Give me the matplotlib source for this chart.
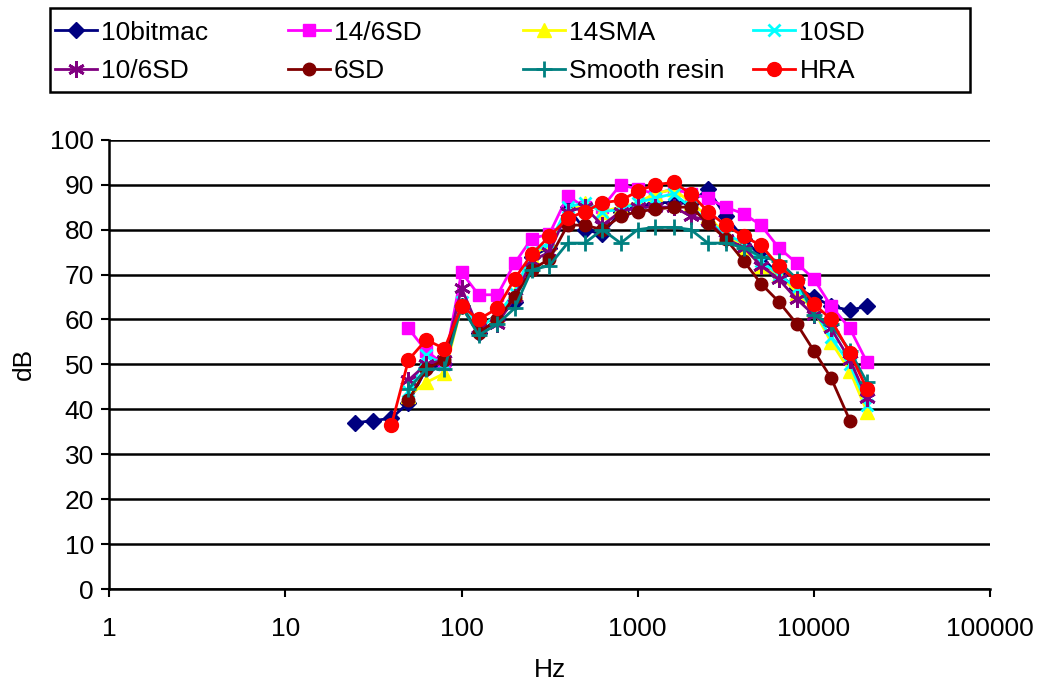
import numpy as np
import matplotlib
matplotlib.use("Agg")
import matplotlib.pyplot as plt
from matplotlib.patches import Rectangle

plt.rcParams['font.family'] = ['Liberation Sans', 'DejaVu Sans']

# third-octave centre frequencies
freqs = [25, 31.5, 40, 50, 63, 80, 100, 125, 160, 200, 250, 315, 400, 500, 630,
         800, 1000, 1250, 1600, 2000, 2500, 3150, 4000, 5000, 6300, 8000,
         10000, 12500, 16000, 20000]

bitmac10 = [37, 37.5, 38, 41.5, 49, 50, 63, 57, 60, 64, 74, 76, 85, 80, 79,
            84, 85, 86, 86, 86, 89, 83, 78, 74, 70, 67, 65, 63, 62, 63]
sd14_6 = [None, None, None, 58, 53, 50, 70.5, 65.5, 65.5, 72.5, 78, 79, 87.5, 85, 85,
          90, 89, 88, 89, 88, 87, 85, 83.5, 81, 76, 72.5, 69, 63, 58, 50.5]
sma14 = [None, None, None, 43, 46, 48, 63, 58, 61, 66, 74, 77, 84, 86, 84,
         85, 86, 88, 89, 86, 83, 79, 76, 72, 70, 66, 62, 55, 48.5, 39.5]
sd10 = [None, None, None, 44, 52, 50, 64, 58, 61, 66, 75, 77, 85, 86, 84,
        84.5, 86, 87, 88, 85, 82, 79, 77, 73, 70, 67, 62, 56, 50, 41]
sd10_6 = [None, None, None, 46.5, 50, 51, 67, 58, 59, 65, 73, 75, 84, 85, 81,
          84, 85, 85, 85, 83, 82, 78, 76, 72, 69, 64.5, 61, 58, 51, 42.5]
sd6 = [None, None, None, 42, 49, 51, 63, 57, 60, 65, 71, 73.5, 81, 81, 80,
       83, 84, 84.5, 85, 85, 81.5, 78, 73, 68, 64, 59, 53, 47, 37.5, None]
smooth_resin = [None, None, None, 44.5, 49, 49, 63, 56.5, 59, 62.5, 71, 72, 77, 77, 80,
                77, 80, 80.5, 80.5, 80, 77, 77, 76, 74, 73, 69, 61, 59, 53, 46]
hra = [None, None, 36.5, 51, 55.5, 53.5, 63, 60, 62.5, 69, 74.5, 78.5, 82.5, 84, 86,
       86.5, 88.5, 90, 90.5, 88, 84, 81, 78.5, 76.5, 72, 68.5, 63.5, 60, 52.5, 44.5]

series = [
    ("10bitmac", bitmac10, "#000080", "D", 8),
    ("14/6SD", sd14_6, "#FF00FF", "s", 9),
    ("14SMA", sma14, "#FFFF00", "^", 10),
    ("10SD", sd10, "#00FFFF", "x", 9),
    ("10/6SD", sd10_6, "#800080", (6, 2, 0), 12),
    ("6SD", sd6, "#800000", "o", 9),
    ("Smooth resin", smooth_resin, "#008080", "+", 12),
    ("HRA", hra, "#FF0000", "o", 10),
]

fs = 19

fig = plt.figure(figsize=(10.39, 6.85), dpi=100)
ax = fig.add_axes([0.105, 0.14, 0.848, 0.656])

handles = {}
for name, vals, col, mk, ms in series:
    x = [f for f, v in zip(freqs, vals) if v is not None]
    y = [v for v in vals if v is not None]
    h, = ax.plot(x, y, color=col, marker=mk, markersize=ms, linewidth=2,
                 markeredgewidth=2 if mk in ("x", "+", (6, 2, 0)) else 1,
                 markeredgecolor=col, label=name)
    handles[name] = h

ax.set_xscale('log')
ax.set_xlim(1, 100000)
ax.set_ylim(0, 100)
ax.set_yticks(range(0, 101, 10))
ax.set_xticks([1, 10, 100, 1000, 10000, 100000])
ax.set_xticklabels(['1', '10', '100', '1000', '10000', '100000'])
ax.minorticks_off()
ax.grid(axis='y', color='black', linewidth=1.8)
ax.set_axisbelow(True)
for s in ['top', 'right']:
    ax.spines[s].set_visible(False)
for s in ['left', 'bottom']:
    ax.spines[s].set_linewidth(1.8)
ax.tick_params(axis='both', labelsize=fs, direction='out', length=6, width=1.5)
ax.tick_params(axis='x', pad=14)
ax.tick_params(axis='y', pad=5)
ax.set_xlabel('Hz', fontsize=fs, labelpad=12)
ax.set_ylabel('dB', fontsize=fs, labelpad=10)

# legend: Excel style, equal-width columns, one frame round all of them
fig.add_artist(Rectangle((0.048, 0.866), 0.886, 0.123, transform=fig.transFigure,
                         fill=False, edgecolor='black', linewidth=1.8))
columns = [["10bitmac", "10/6SD"], ["14/6SD", "6SD"],
           ["14SMA", "Smooth resin"], ["10SD", "HRA"]]
col_x = [0.053, 0.277, 0.503, 0.725]
for names, cx in zip(columns, col_x):
    fig.legend([handles[n] for n in names], names, loc='upper left',
               bbox_to_anchor=(cx, 0.97), fontsize=fs, frameon=False,
               handlelength=1.6, handletextpad=0.15, borderpad=0,
               borderaxespad=0, labelspacing=0.55)

fig.savefig('out.png', dpi=100)
